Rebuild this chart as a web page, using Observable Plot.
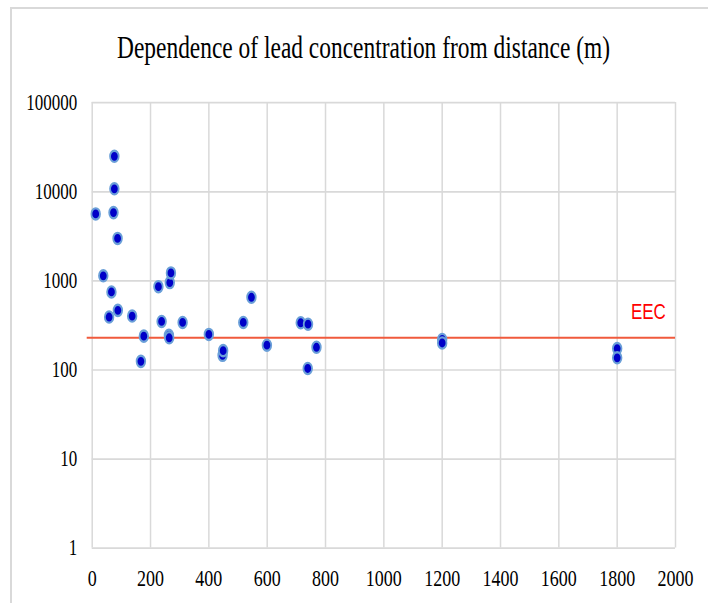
<!DOCTYPE html>
<html>
<head>
<meta charset="utf-8">
<script src="https://cdn.jsdelivr.net/npm/d3@7"></script>
<script src="https://cdn.jsdelivr.net/npm/@observablehq/plot@0.6"></script>
<style>
  html, body { margin: 0; padding: 0; background: #fff; width: 708px; height: 603px; overflow: hidden; }
  #border { position: absolute; left: 10px; top: 7px; width: 700px; height: 610px;
            border-left: 2px solid #d9d9d9; border-top: 2px solid #d9d9d9; box-sizing: border-box; }
  #wrap { position: absolute; left: 0; top: 0; width: 708px; height: 464px;
          transform: scaleY(1.3); transform-origin: 0 0; }
  #title { position: absolute; left: 0; width: 727px; top: 24px; text-align: center;
           font-family: 'Liberation Serif', 'Times New Roman', serif; font-size: 25px; line-height: 25px;
           color: #000; white-space: nowrap; transform: scaleX(0.937); transform-origin: 363.5px 0; }
  #chart { position: absolute; left: 0; top: 0; }
</style>
</head>
<body>
<div id="border"></div>
<div id="wrap">
  <div id="chart"></div>
  <div id="title"></div>
</div>
<script>
// Chart data
const title = "Dependence of lead concentration from distance (m)";
const distance = [12, 38, 58, 66, 73, 76, 76, 87, 88, 137, 167, 177, 227, 238, 263, 264, 266, 270, 310, 400, 447, 449, 518, 546, 599, 715, 740, 739, 769, 1200, 1200, 1800, 1800];
const lead     = [5650, 1140, 393, 752, 5840, 10800, 25000, 3000, 467, 403, 125, 240, 862, 351, 245, 230, 957, 1230, 342, 251, 146, 165, 342, 655, 190, 339, 327, 104, 180, 220, 201, 174, 137];
const xTicks = [0, 200, 400, 600, 800, 1000, 1200, 1400, 1600, 1800, 2000];
const yTicks = [1, 10, 100, 1000, 10000, 100000];
const eecValue = 230;
const eecLabel = "EEC";
const eecLabelX = 1907;

const points = distance.map((d, i) => ({distance: d, lead: lead[i]}));
const eecRows = [{x: eecLabelX, y: eecValue, label: eecLabel}];

document.getElementById("title").textContent = title;

const chart = Plot.plot({
  width: 708,
  height: 464,
  marginTop: 78.5,
  marginBottom: 42.8,
  marginLeft: 91.7,
  marginRight: 33,
  style: {fontFamily: "'Liberation Serif', 'Times New Roman', serif", background: "transparent", color: "#000", overflow: "visible"},
  x: {domain: [0, 2000]},
  y: {type: "log", domain: [1, 100000]},
  marks: [
    Plot.gridX(xTicks, {stroke: "#d9d9d9", strokeOpacity: 1, strokeWidth: 1.5}),
    Plot.gridY(yTicks, {stroke: "#d9d9d9", strokeOpacity: 1, strokeWidth: 1.3}),
    Plot.axisX(xTicks, {tickSize: 0, tickPadding: 16, fontSize: 18, label: null, tickFormat: d => String(d)}),
    Plot.axisY(yTicks, {tickSize: 0, tickPadding: 15, fontSize: 17, label: null, tickFormat: d => String(d)}),
    Plot.ruleY([eecValue], {stroke: "#f05a3c", strokeWidth: 1.4, insetLeft: -5}),
    Plot.dot(points, {x: "distance", y: "lead", r: 4.3, fill: "#0000c8", stroke: "#6a9fd8", strokeWidth: 1.8}),
    Plot.text(eecRows, {x: "x", y: "y", text: "label", dy: -20, fill: "#ff0000", fontSize: 17, fontFamily: "'Liberation Sans Narrow', 'Liberation Sans', sans-serif"})
  ]
});
document.getElementById("chart").appendChild(chart);
</script>
</body>
</html>
